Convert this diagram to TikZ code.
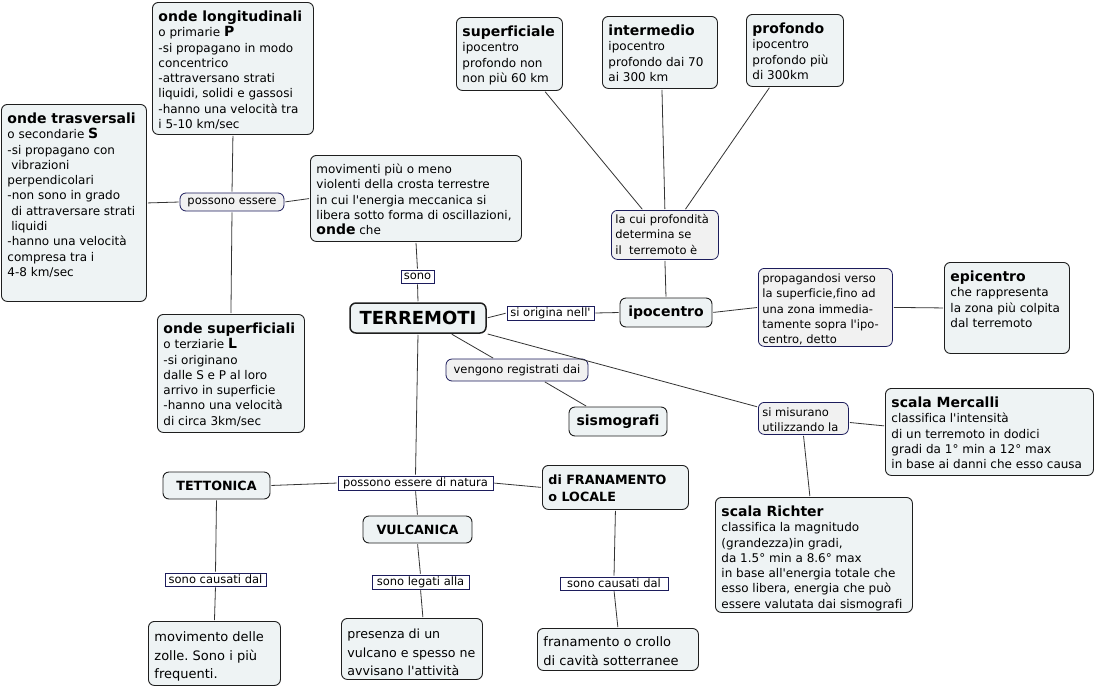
\documentclass[tikz,border=0pt]{standalone}
\usepackage{fontspec}
\setmainfont{DejaVu Sans}[Ligatures={TeXOff,CommonOff}]
\usetikzlibrary{calc}
\frenchspacing
\definecolor{boxfill}{HTML}{EEF3F4}
\definecolor{linkfill}{HTML}{F1F1F1}
\definecolor{navy}{HTML}{1C1C5C}
\definecolor{edgec}{HTML}{1E1E1E}
\definecolor{connc}{HTML}{333333}
\newcommand{\bodyf}{\fontsize{12}{15.3}\selectfont}
\newcommand{\labf}{\fontsize{11.5}{15.3}\selectfont}
\newcommand{\titf}{\fontsize{14}{16}\selectfont\bfseries}
\newcommand{\capf}{\fontsize{12.7}{17}\selectfont\bfseries}
\newcommand{\leaff}{\fontsize{13}{18.7}\selectfont}
\newcommand{\terrf}{\fontsize{18}{20}\selectfont\bfseries}
\newcommand{\tb}[3]{\vbox to #2{\hrule height0pt width #1\relax\bodyf #3\vss}}
\newcommand{\Fi}[2][15pt]{\hbox to 0pt{\vrule height #1 width 0pt\relax #2\hss}}
\newcommand{\Li}[1]{\hbox to 0pt{#1\hss}}
\begin{document}
\begin{tikzpicture}[x=1pt,y=-1pt,
  box/.style={draw=edgec, line width=0.9pt, fill=boxfill, rounded corners=6pt, anchor=north west, inner xsep=6pt, inner ysep=4pt},
  sbox/.style={draw=edgec, line width=0.9pt, fill=boxfill, rounded corners=6pt, inner sep=0pt},
  lbox/.style={draw=navy, line width=0.8pt, fill=linkfill, rounded corners=6pt, anchor=north west, inner xsep=4pt, inner ysep=4pt},
  rlab/.style={draw=navy, line width=0.8pt, fill=linkfill, rounded corners=6pt, inner sep=0pt, font=\labf},
  slab/.style={draw=navy, line width=0.8pt, fill=white, inner sep=0pt, font=\labf},
  conn/.style={draw=connc, line width=0.8pt, shorten <=1pt, shorten >=1pt}]
\fill[white] (0,0) rectangle (1095,686);
\useasboundingbox (0,0) rectangle (1095,686);

% ---- boxes ----
\node[box] (ondeL) at (152,2) {\tb{149pt}{124pt}{\Fi{\titf onde longitudinali}\Li{o primarie {\titf P}}\Li{-si propagano in modo}\Li{concentrico}\Li{-attraversano strati}\Li{liquidi, solidi e gassosi}\Li{-hanno una velocità tra}\Li{i 5-10 km/sec}}};
\node[box] (ondeT) at (1,104) {\tb{133pt}{189pt}{\Fi{\titf onde trasversali}\Li{o secondarie {\titf S}}\Li{-si propagano con}\Li{\ vibrazioni}\Li{perpendicolari}\Li{-non sono in grado}\Li{\ di attraversare strati}\Li{\ liquidi}\Li{-hanno una velocità}\Li{compresa tra i}\Li{4-8 km/sec}}};
\node[rlab, minimum width=104pt, minimum height=18pt] (possono) at (232,202) {possono essere};
\node[box] (mov) at (310,155) {\tb{199pt}{78pt}{\Fi[14pt]{movimenti più o meno}\Li{violenti della crosta terrestre}\Li{in cui l'energia meccanica si}\Li{libera sotto forma di oscillazioni,}\Li{{\titf onde} che}}};
\node[slab, minimum width=33pt, minimum height=13pt] (sono) at (417.5,276.5) {sono};
\node[sbox, line width=1.5pt, minimum width=136pt, minimum height=30pt, font=\terrf] (terr) at (418,318) {TERREMOTI};
\node[slab, minimum width=87pt, minimum height=14pt] (origina) at (550.5,313) {si origina nell'};
\node[sbox, minimum width=92pt, minimum height=29pt, font=\titf] (ipo) at (666,312.5) {ipocentro};
\node[lbox] (lacui) at (611,210) {\tb{99pt}{41pt}{\labf\Fi[9pt]{la cui profondità}\Li{determina se}\Li{il\ \ terremoto è}}};
\node[box] (sup) at (456,17) {\tb{94pt}{65pt}{\Fi{\titf superficiale}\Li{ipocentro}\Li{profondo non}\Li{non più 60 km}}};
\node[box] (inter) at (602,16) {\tb{103pt}{64pt}{\Fi{\titf intermedio}\Li{ipocentro}\Li{profondo dai 70}\Li{ai 300 km}}};
\node[box] (prof) at (746,14) {\tb{85pt}{64pt}{\Fi{\titf profondo}\Li{ipocentro}\Li{profondo più}\Li{di 300km}}};
\node[lbox] (prop) at (758,268) {\tb{126pt}{70pt}{\labf\Fi[10pt]{propagandosi verso}\Li{la superficie,fino ad}\Li{una zona immedia-}\Li{tamente sopra l'ipo-}\Li{centro, detto}}};
\node[box] (epi) at (944,262) {\tb{113pt}{83pt}{\Fi{\titf epicentro}\Li{che rappresenta}\Li{la zona più colpita}\Li{dal terremoto}}};
\node[rlab, minimum width=142pt, minimum height=22pt] (veng) at (517,370) {vengono registrati dai};
\node[sbox, minimum width=98pt, minimum height=29pt, font=\titf] (sism) at (618,421.5) {sismografi};
\node[lbox] (misur) at (758,402) {\tb{82pt}{24pt}{\labf\Fi[10pt]{si misurano}\Li{utilizzando la}}};
\node[box] (merc) at (885,388) {\tb{196pt}{79pt}{\Fi{\titf scala Mercalli}\Li{classifica l'intensità}\Li{di un terremoto in dodici}\Li{gradi da 1° min a 12° max}\Li{in base ai danni che esso causa}}};
\node[box] (richt) at (715,497) {\tb{185pt}{107pt}{\Fi{\titf scala Richter}\Li{classifica la magnitudo}\Li{(grandezza)in gradi,}\Li{da 1.5° min a 8.6° max}\Li{in base all'energia totale che}\Li{esso libera, energia che può}\Li{essere valutata dai sismografi}}};
\node[box] (ondeS) at (157,314) {\tb{135pt}{110pt}{\Fi{\titf onde superficiali}\Li{o terziarie {\titf L}}\Li{-si originano}\Li{dalle S e P al loro}\Li{arrivo in superficie}\Li{-hanno una velocità}\Li{di circa 3km/sec}}};
\node[sbox, minimum width=107pt, minimum height=27pt, font=\capf] (tett) at (216.5,485.5) {TETTONICA};
\node[slab, minimum width=155pt, minimum height=14pt] (natura) at (415.5,483) {possono essere di natura};
\node[box] (fran) at (542,465) {\tb{134pt}{36pt}{\capf\Fi{di FRANAMENTO}\Li{o LOCALE}}};
\node[sbox, minimum width=109pt, minimum height=27pt, font=\capf] (vulc) at (417.5,529.5) {VULCANICA};
\node[slab, minimum width=101pt, minimum height=13pt] (caus1) at (215.5,579.5) {sono causati dal};
\node[slab, minimum width=97pt, minimum height=14pt] (legati) at (420.5,582) {sono legati alla};
\node[slab, minimum width=108pt, minimum height=13pt] (caus2) at (614,583.5) {sono causati dal\hspace{8pt}};
\node[box] (movz) at (148,621) {\tb{120pt}{56pt}{\leaff\Fi[16pt]{movimento delle}\Li{zolle. Sono i più}\Li{frequenti.}}};
\node[box] (pres) at (341,618) {\tb{129pt}{53pt}{\fontsize{12.6}{18.7}\selectfont\Fi[16pt]{presenza di un}\Li{vulcano e spesso ne}\Li{avvisano l'attività}}};
\node[box] (franc) at (537,628) {\tb{149pt}{34pt}{\leaff\Fi[14pt]{franamento o crollo}\Li{di cavità sotterranee}}};

% ---- connectors ----
\draw[conn] (ondeL.south) -- (possono.north);
\draw[conn] (possono.west) -- (ondeT.east);
\draw[conn] (possono.south) -- (ondeS.north);
\draw[conn] (possono.east) -- (mov.west);
\draw[conn] (mov.south) -- (sono.north);
\draw[conn] (sono.south) -- (terr.north);
\draw[conn] (terr.east) -- (origina.west);
\draw[conn] (origina.east) -- (ipo.west);
\draw[conn] (ipo.north) -- (lacui.south);
\draw[conn] ([xshift=-22pt]lacui.north) -- ([xshift=35pt]sup.south);
\draw[conn] (lacui.north) -- ([xshift=2pt]inter.south);
\draw[conn] ([xshift=20pt]lacui.north) -- ([xshift=-25pt]prof.south);
\draw[conn] (ipo.east) -- (prop.west);
\draw[conn] (prop.east) -- (epi.west);
\draw[conn] ([xshift=33pt]terr.south) -- ([xshift=-23pt]veng.north);
\draw[conn] ([xshift=27pt]veng.south) -- ([xshift=-31pt]sism.north);
\draw[conn] (terr.south east) -- ([yshift=-5pt]misur.north west);
\draw[conn] ([yshift=-4pt]misur.east) -- ([yshift=6pt]merc.west);
\draw[conn] (misur.south) -- ([xshift=-4pt]richt.north);
\draw[conn] (terr.south) -- (natura.north);
\draw[conn] (natura.west) -- (tett.east);
\draw[conn] (natura.east) -- (fran.west);
\draw[conn] (natura.south) -- (vulc.north);
\draw[conn] (tett.south) -- (caus1.north);
\draw[conn] (caus1.south) -- (movz.north);
\draw[conn] (vulc.south) -- (legati.north);
\draw[conn] (legati.south) -- ([xshift=11pt]pres.north);
\draw[conn] (fran.south) -- (caus2.north);
\draw[conn] (caus2.south) -- (franc.north);
\end{tikzpicture}
\end{document}
